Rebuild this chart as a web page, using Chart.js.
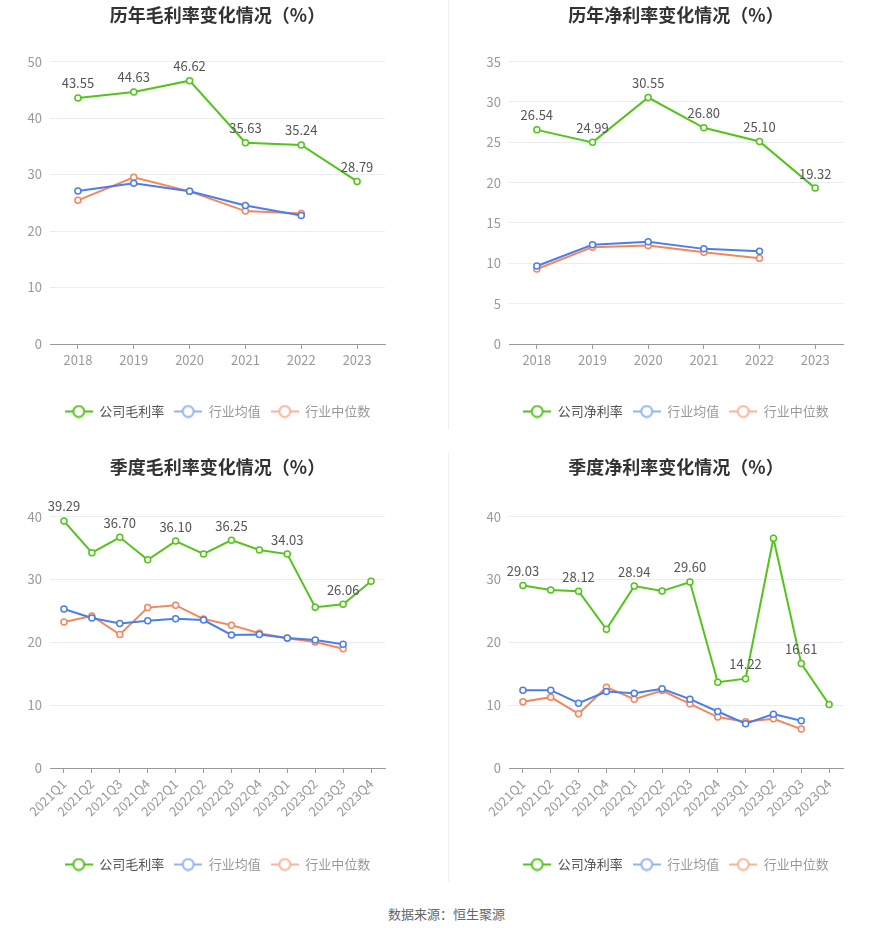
<!DOCTYPE html>
<html>
<head>
<meta charset="utf-8">
<script src="https://cdn.jsdelivr.net/npm/chart.js@4.4.0/dist/chart.umd.min.js"></script>
<style>
    body { margin: 0; background: #fff; width: 893px; height: 935px; position: relative; overflow: hidden; font-family: "Noto Sans CJK SC", sans-serif; }
    .box { position: absolute; }
    .divider { position: absolute; left: 448px; width: 1px; background: #f0f0f0; }
    #source { position: absolute; top: 904px; left: 0; width: 893px; text-align: center; font-size: 13px; line-height: 19px; color: #666; }
</style>
</head>
<body>
<div class="divider" style="top:0;height:430px"></div>
<div class="divider" style="top:452px;height:430px"></div>
<div class="box" style="left:0;top:0"><canvas id="grossYear" width="435" height="440"></canvas></div>
<div class="box" style="left:459px;top:0"><canvas id="netYear" width="434" height="440"></canvas></div>
<div class="box" style="left:0;top:452px"><canvas id="grossQuarter" width="435" height="448"></canvas></div>
<div class="box" style="left:459px;top:452px"><canvas id="netQuarter" width="434" height="448"></canvas></div>
<div id="source">数据来源：恒生聚源</div>

<script>
// Categories
const years = ['2018', '2019', '2020', '2021', '2022', '2023'];
const quarters = ['2021Q1', '2021Q2', '2021Q3', '2021Q4', '2022Q1', '2022Q2',
                  '2022Q3', '2022Q4', '2023Q1', '2023Q2', '2023Q3', '2023Q4'];

// Annual gross margin (%)
const yearGrossCompany = [43.55, 44.63, 46.62, 35.63, 35.24, 28.79];
const yearGrossAvg = [27.09, 28.46, 27.03, 24.54, 22.76, null];
const yearGrossMedian = [25.43, 29.53, 27.03, 23.53, 23.12, null];

// Annual net margin (%)
const yearNetCompany = [26.54, 24.99, 30.55, 26.80, 25.10, 19.32];
const yearNetAvg = [9.67, 12.29, 12.67, 11.79, 11.50, null];
const yearNetMedian = [9.29, 12.00, 12.21, 11.38, 10.63, null];

// Quarterly gross margin (%)
const quarterGrossCompany = [39.29, 34.26, 36.70, 33.14, 36.10, 34.05, 36.25, 34.69, 34.03, 25.58, 26.06, 29.71];
const quarterGrossAvg = [25.31, 23.86, 23.00, 23.43, 23.75, 23.54, 21.18, 21.23, 20.70, 20.38, 19.68, null];
const quarterGrossMedian = [23.22, 24.18, 21.23, 25.52, 25.90, 23.70, 22.73, 21.45, 20.64, 20.05, 18.98, null];

// Quarterly net margin (%)
const quarterNetCompany = [29.03, 28.31, 28.12, 22.06, 28.94, 28.15, 29.60, 13.65, 14.22, 36.56, 16.61, 10.10];
const quarterNetAvg = [12.38, 12.38, 10.32, 12.17, 11.90, 12.59, 10.95, 8.99, 7.04, 8.57, 7.51, null];
const quarterNetMedian = [10.53, 11.27, 8.62, 12.86, 10.95, 12.33, 10.21, 8.10, 7.35, 7.83, 6.19, null];

const FONT = '"Noto Sans CJK SC", "Noto Sans", sans-serif';
const GREEN = '#52c41a';
const BLUE = '#4a7ee9';
const ORANGE = '#f7855c';

// Line + hollow circle legend marker
function legendMarker(color) {
    const c = document.createElement('canvas');
    c.width = 28;
    c.height = 14;
    const g = c.getContext('2d');
    g.strokeStyle = color;
    g.lineWidth = 2;
    g.beginPath();
    g.moveTo(0, 7);
    g.lineTo(28, 7);
    g.stroke();
    g.fillStyle = '#fff';
    g.beginPath();
    g.arc(14, 7, 5.5, 0, Math.PI * 2);
    g.fill();
    g.stroke();
    return c;
}

const legendStyles = [
    { marker: legendMarker(GREEN), text: '#555' },
    { marker: legendMarker('#94b3f2'), text: '#999' },
    { marker: legendMarker('#fbb39a'), text: '#999' }
];

// Value labels above company series
const valueLabels = {
    id: 'valueLabels',
    afterDatasetsDraw(chart, args, opts) {
        const meta = chart.getDatasetMeta(0);
        const data = chart.data.datasets[0].data;
        const ctx = chart.ctx;
        ctx.save();
        ctx.font = '13px ' + FONT;
        ctx.fillStyle = '#555';
        ctx.textAlign = 'center';
        ctx.textBaseline = 'bottom';
        meta.data.forEach((pt, i) => {
            if (i % opts.every) return;
            ctx.fillText(data[i].toFixed(2), pt.x, pt.y - 8);
        });
        ctx.restore();
    }
};

function lineSet(label, data, color) {
    return {
        label: label,
        data: data,
        borderColor: color,
        backgroundColor: '#fff',
        borderWidth: 2,
        pointRadius: 3,
        pointBorderWidth: 1.5,
        pointBackgroundColor: '#fff',
        tension: 0
    };
}

function createChart(id, opt) {
    const ctx = document.getElementById(id).getContext('2d');
    return new Chart(ctx, {
        type: 'line',
        data: {
            labels: opt.labels,
            datasets: [
                lineSet(opt.companyLabel, opt.company, GREEN),
                lineSet('行业均值', opt.avg, BLUE),
                lineSet('行业中位数', opt.median, ORANGE)
            ]
        },
        plugins: [valueLabels],
        options: {
            responsive: false,
            animation: false,
            layout: {
                padding: { left: 0, right: 0, top: 0, bottom: opt.padBottom }
            },
            plugins: {
                valueLabels: { every: opt.every },
                tooltip: { enabled: false },
                title: {
                    display: true,
                    text: opt.title,
                    color: '#333',
                    font: { family: FONT, size: 18, weight: 'bold', lineHeight: 1.2 },
                    padding: { top: 4, bottom: opt.titleGap }
                },
                legend: {
                    position: 'bottom',
                    labels: {
                        usePointStyle: true,
                        pointStyleWidth: 28,
                        padding: 10,
                        font: { family: FONT, size: 13 },
                        generateLabels(chart) {
                            const items = Chart.defaults.plugins.legend.labels.generateLabels(chart);
                            items.forEach((item, i) => {
                                item.pointStyle = legendStyles[i].marker;
                                item.fontColor = legendStyles[i].text;
                            });
                            return items;
                        }
                    }
                }
            },
            scales: {
                x: {
                    offset: true,
                    afterFit(scale) { scale.height = opt.xHeight; },
                    grid: {
                        display: true,
                        drawOnChartArea: false,
                        offset: false,
                        tickLength: 5,
                        color: '#9a9a9a'
                    },
                    border: { display: true, color: '#9a9a9a' },
                    ticks: {
                        color: '#999',
                        padding: 3,
                        autoSkip: false,
                        maxRotation: opt.rotate,
                        minRotation: opt.rotate,
                        font: { family: FONT, size: 13 }
                    }
                },
                y: {
                    min: 0,
                    max: opt.max,
                    afterFit(scale) { scale.width = 50; },
                    border: { display: false },
                    grid: { color: '#e9ecf3', drawTicks: false },
                    ticks: {
                        stepSize: opt.step,
                        color: '#999',
                        padding: 8,
                        font: { family: FONT, size: 13 }
                    }
                },
                // empty right-hand spacer so the plot sits centred under title and legend
                spacer: {
                    type: 'linear',
                    position: 'right',
                    afterFit(scale) { scale.width = 50; },
                    border: { display: false },
                    grid: { display: false },
                    ticks: { display: false }
                }
            }
        }
    });
}

createChart('grossYear', {
    title: '历年毛利率变化情况（%）', labels: years, companyLabel: '公司毛利率',
    company: yearGrossCompany, avg: yearGrossAvg, median: yearGrossMedian,
    max: 50, step: 10, every: 1, rotate: 0, xHeight: 51, titleGap: 36, padBottom: 12
});

createChart('netYear', {
    title: '历年净利率变化情况（%）', labels: years, companyLabel: '公司净利率',
    company: yearNetCompany, avg: yearNetAvg, median: yearNetMedian,
    max: 35, step: 5, every: 1, rotate: 0, xHeight: 51, titleGap: 36, padBottom: 12
});

createChart('grossQuarter', {
    title: '季度毛利率变化情况（%）', labels: quarters, companyLabel: '公司毛利率',
    company: quarterGrossCompany, avg: quarterGrossAvg, median: quarterGrossMedian,
    max: 40, step: 10, every: 2, rotate: 45, xHeight: 80, titleGap: 39, padBottom: 19
});

createChart('netQuarter', {
    title: '季度净利率变化情况（%）', labels: quarters, companyLabel: '公司净利率',
    company: quarterNetCompany, avg: quarterNetAvg, median: quarterNetMedian,
    max: 40, step: 10, every: 2, rotate: 45, xHeight: 80, titleGap: 39, padBottom: 19
});
</script>
</body>
</html>
